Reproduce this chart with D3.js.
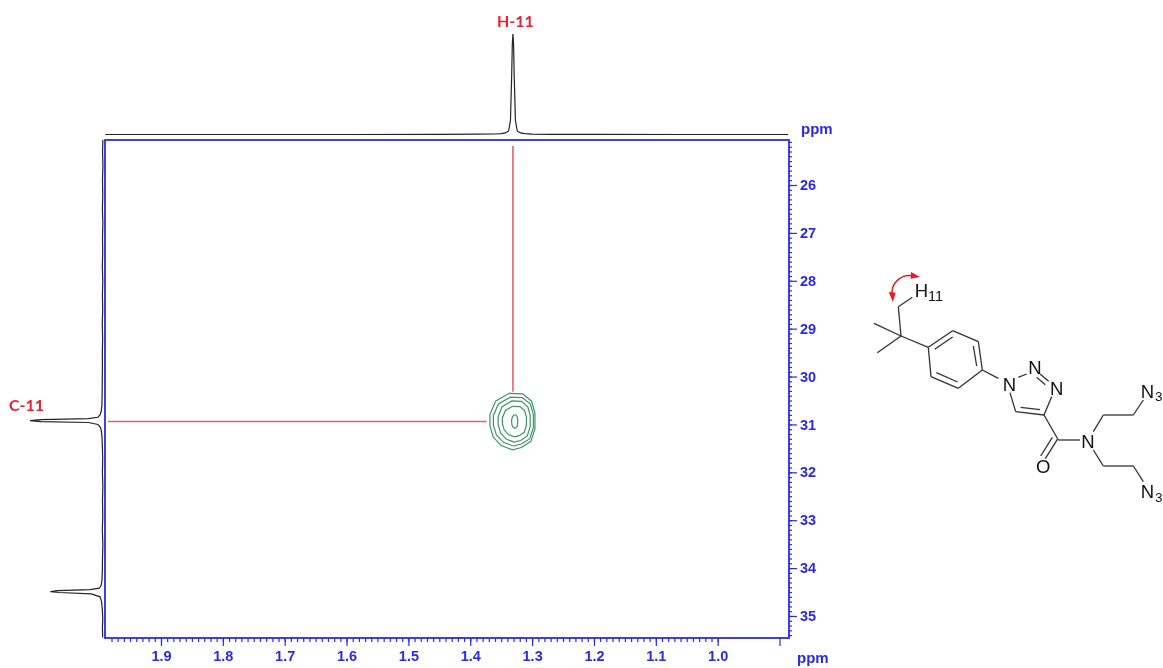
<!DOCTYPE html>
<html>
<head>
<meta charset="utf-8">
<script src="https://cdn.jsdelivr.net/npm/d3@7"></script>
<style>
	body { margin: 0; background: #fff; }
	svg { display: block; filter: blur(0.35px); }
</style>
</head>
<body>
<script>
// tick labels
const protonTicks = [1.9, 1.8, 1.7, 1.6, 1.5, 1.4, 1.3, 1.2, 1.1, 1.0];
const protonUnlabelled = [0.9];
const carbonTicks = [26, 27, 28, 29, 30, 31, 32, 33, 34, 35];

// cross peak
const peakProton = 1.331;
const peakCarbon = 30.94;

// contours, outer to inner, centre and half widths in ppm
const contourCentreProton = [1.3318, 1.3303, 1.329, 1.3286, 1.3282];
const contourHalfProton = [0.0364, 0.0323, 0.0259, 0.0194, 0.0049];
const contourHalfCarbon = [0.59, 0.51, 0.43, 0.32, 0.14];
const contourShape = [[-0.15, -1], [0.45, -0.98], [0.85, -0.72], [1, -0.3], [1, 0.25], [0.82, 0.7], [0.4, 0.92], [0, 1], [-0.5, 0.85], [-0.85, 0.55], [-1, 0.15], [-1, -0.25], [-0.75, -0.72]];

// top projection
const topPpm = [1.99, 1.8, 1.6, 1.45, 1.39, 1.36, 1.35, 1.343, 1.338, 1.335, 1.333, 1.332, 1.331, 1.33, 1.329, 1.327, 1.324, 1.319, 1.312, 1.3, 1.27, 1.2, 1.05, 0.886];
const topInt = [0, 0, 0, 0.1, 0.3, 0.5, 0.8, 1.6, 3.5, 14, 60, 90, 100, 90, 60, 14, 3.5, 1.6, 0.8, 0.4, 0.2, 0.1, 0, 0];

// left projection
const leftPpm = [25.06, 25.3, 25.6, 25.9, 26.2, 26.5, 26.8, 27.1, 27.4, 27.7, 28, 28.3, 28.6, 28.9, 29.2, 29.5, 29.8, 30.1, 30.4, 30.6, 30.72, 30.8, 30.85, 30.88, 30.9, 30.92, 30.94, 30.96, 31, 31.05, 31.12, 31.25, 31.45, 31.7, 32, 32.3, 32.6, 32.9, 33.2, 33.5, 33.8, 34.05, 34.25, 34.36, 34.42, 34.45, 34.47, 34.49, 34.51, 34.54, 34.6, 34.7, 34.85, 35.05, 35.25, 35.45];
const leftInt = [0.2, 0.6, 0.1, 0.7, 0.3, 0.8, 0.2, 0.7, 0.4, 0.9, 0.3, 0.8, 0.4, 1, 0.5, 0.9, 0.8, 1, 1.2, 1.5, 2.4, 4, 7, 20, 85, 100, 85, 20, 7, 4, 2.4, 1.4, 0.9, 0.4, 0.8, 0.2, 0.7, 0.3, 0.9, 0.2, 0.7, 0.9, 1.4, 2.5, 5, 18, 62, 72, 60, 16, 4, 2, 1, 0.3, 0.8, 0.4];

// molecule drawing, in its own drawing units
const molBonds = [
	[187, 112, 145, 140], [145, 140, 153, 228], [72, 190, 153, 228], [82, 278, 153, 228], [153, 228, 235, 262],
	[235, 262, 308, 212], [308, 212, 385, 245], [385, 245, 397, 330], [397, 330, 325, 385], [325, 385, 243, 350], [243, 350, 235, 262],
	[254, 268, 308, 231], [370, 258, 380, 318], [323, 366, 259, 338],
	[397, 330, 445, 355], [505, 352, 530, 342], [570, 342, 596, 364], [560, 352, 586, 374],
	[605, 410, 582, 465], [582, 465, 497, 455], [570, 449, 512, 442], [497, 455, 480, 398],
	[582, 465, 625, 540], [625, 540, 690, 540], [622, 538, 586, 596], [607, 532, 572, 588],
	[730, 515, 760, 465], [760, 465, 850, 465], [850, 465, 880, 420],
	[730, 570, 760, 618], [760, 618, 850, 618], [850, 618, 880, 665]
];
const molLabels = [
	['H', 194, 110, 18.5], ['11', 234, 122, 14.5], ['N', 458, 392, 18.5], ['N', 535, 342, 18.5], ['N', 600, 406, 18.5],
	['N', 694, 563, 18.5], ['O', 558, 639, 18.5], ['N', 872, 413, 18.5], ['3', 915, 424, 13.5], ['N', 872, 714, 18.5], ['3', 915, 725, 13.5]
];

const width = 1163;
const height = 668;
const blue = '#2a2aee';
const red = '#e9606c';

const svg = d3.select('body')
	.append('svg')
	.attr('width', width)
	.attr('height', height)
	.style('font-family', '"Liberation Sans", Arial, sans-serif');

const plot = { left: 105, right: 789, top: 140, bottom: 638 };

const x = d3.scaleLinear().domain([1.9905, 0.8847]).range([plot.left, plot.right]);
const y = d3.scaleLinear().domain([25.06, 35.46]).range([plot.top, plot.bottom]);
const topY = d3.scaleLinear().domain([0, 100]).range([134.5, 34]);
const leftX = d3.scaleLinear().domain([0, 100]).range([103, 30]);

//minor ticks first, majors on top
const minorX = d3.range(100, 199).map((d) => d / 100);
const minorY = d3.range(251, 355).map((d) => d / 10);

const styleAxis = (g) => {
	g.select('.domain').remove();
	g.selectAll('line').attr('stroke', blue).attr('stroke-width', 1.2);
	g.selectAll('text')
		.attr('fill', blue)
		.style('font-family', '"Liberation Sans", Arial, sans-serif')
		.style('font-size', '14.5px')
		.style('font-weight', 'bold');
};

svg.append('g')
	.attr('transform', `translate(0,${plot.bottom})`)
	.call(d3.axisBottom(x).tickValues(minorX).tickSize(4).tickFormat(''))
	.call(styleAxis);
svg.append('g')
	.attr('transform', `translate(0,${plot.bottom})`)
	.call(d3.axisBottom(x).tickValues(protonTicks).tickSize(8).tickPadding(5).tickFormat(d3.format('.1f')))
	.call(styleAxis);
svg.append('g')
	.attr('transform', `translate(0,${plot.bottom})`)
	.call(d3.axisBottom(x).tickValues(protonUnlabelled).tickSize(8).tickFormat(''))
	.call(styleAxis);
svg.append('g')
	.attr('transform', `translate(${plot.right},0)`)
	.call(d3.axisRight(y).tickValues(minorY).tickSize(3).tickFormat(''))
	.call(styleAxis);
svg.append('g')
	.attr('transform', `translate(${plot.right},0)`)
	.call(d3.axisRight(y).tickValues(carbonTicks).tickSize(8).tickPadding(3).tickFormat(d3.format('d')))
	.call(styleAxis);

//plot frame
svg.append('rect')
	.attr('x', plot.left)
	.attr('y', plot.top)
	.attr('width', plot.right - plot.left)
	.attr('height', plot.bottom - plot.top)
	.attr('fill', 'none')
	.attr('stroke', blue)
	.attr('stroke-width', 1.8);

//ppm unit labels
svg.append('text').attr('x', 801).attr('y', 134).attr('fill', blue)
	.style('font-size', '15px').style('font-weight', 'bold').text('ppm');
svg.append('text').attr('x', 797).attr('y', 663).attr('fill', blue)
	.style('font-size', '15px').style('font-weight', 'bold').text('ppm');

//projections
const topLine = d3.line().x((d, i) => x(topPpm[i])).y((d) => topY(d));
svg.append('path')
	.attr('d', topLine(topInt))
	.attr('fill', 'none')
	.attr('stroke', '#222')
	.attr('stroke-width', 1.2);

const leftLine = d3.line().x((d) => leftX(d)).y((d, i) => y(leftPpm[i]));
svg.append('path')
	.attr('d', leftLine(leftInt))
	.attr('fill', 'none')
	.attr('stroke', '#222')
	.attr('stroke-width', 1.2);

//crosshair to the peak
svg.append('line')
	.attr('x1', x(peakProton)).attr('x2', x(peakProton))
	.attr('y1', 146).attr('y2', y(30.32))
	.attr('stroke', red).attr('stroke-width', 1.6);
svg.append('line')
	.attr('x1', 108).attr('x2', x(1.3735))
	.attr('y1', y(peakCarbon)).attr('y2', y(peakCarbon))
	.attr('stroke', red).attr('stroke-width', 1.6);

//contours
const contourLine = d3.line();
contourHalfProton.forEach((halfH, i) => {
	const pts = contourShape.map((s) => [
		x(contourCentreProton[i] - s[0] * halfH),
		y(peakCarbon + s[1] * contourHalfCarbon[i])
	]);
	svg.append('path')
		.attr('d', contourLine(pts) + 'Z')
		.attr('fill', 'none')
		.attr('stroke', '#3f9468')
		.attr('stroke-width', 1.2);
});

//signal names
svg.append('text').attr('x', 497).attr('y', 27).attr('fill', '#ee2030')
	.style('font-family', 'Lato, sans-serif').style('font-size', '16px').style('font-weight', 'bold').text('H-11');
svg.append('text').attr('x', 9).attr('y', 411).attr('fill', '#ee2030')
	.style('font-family', 'Lato, sans-serif').style('font-size', '16px').style('font-weight', 'bold').text('C-11');

//molecule
const molX = d3.scaleLinear().domain([0, 939]).range([850, 1163]);
const molY = d3.scaleLinear().domain([0, 780]).range([260, 520]);

svg.append('g')
	.selectAll('line')
	.data(molBonds)
	.enter()
	.append('line')
	.attr('x1', (d) => molX(d[0]))
	.attr('y1', (d) => molY(d[1]))
	.attr('x2', (d) => molX(d[2]))
	.attr('y2', (d) => molY(d[3]))
	.attr('stroke', '#333')
	.attr('stroke-width', 1.3);

svg.append('g')
	.selectAll('text')
	.data(molLabels)
	.enter()
	.append('text')
	.attr('x', (d) => molX(d[1]))
	.attr('y', (d) => molY(d[2]))
	.attr('fill', '#111')
	.style('font-size', (d) => `${d[3]}px`)
	.text((d) => d[0]);

//double headed red arrow
const arc = d3.path();
arc.moveTo(molX(128), molY(110));
arc.bezierCurveTo(molX(118), molY(70), molX(155), molY(38), molX(195), molY(49));
svg.append('path')
	.attr('d', arc.toString())
	.attr('fill', 'none')
	.attr('stroke', '#e81c24')
	.attr('stroke-width', 1.5);
const heads = [
	[[116, 96], [137, 98], [129, 126]],
	[[183, 36], [210, 51], [182, 56]]
];
svg.append('g')
	.selectAll('path')
	.data(heads)
	.enter()
	.append('path')
	.attr('d', (d) => d3.line().x((p) => molX(p[0])).y((p) => molY(p[1]))(d) + 'Z')
	.attr('fill', '#e81c24');
</script>
</body>
</html>
